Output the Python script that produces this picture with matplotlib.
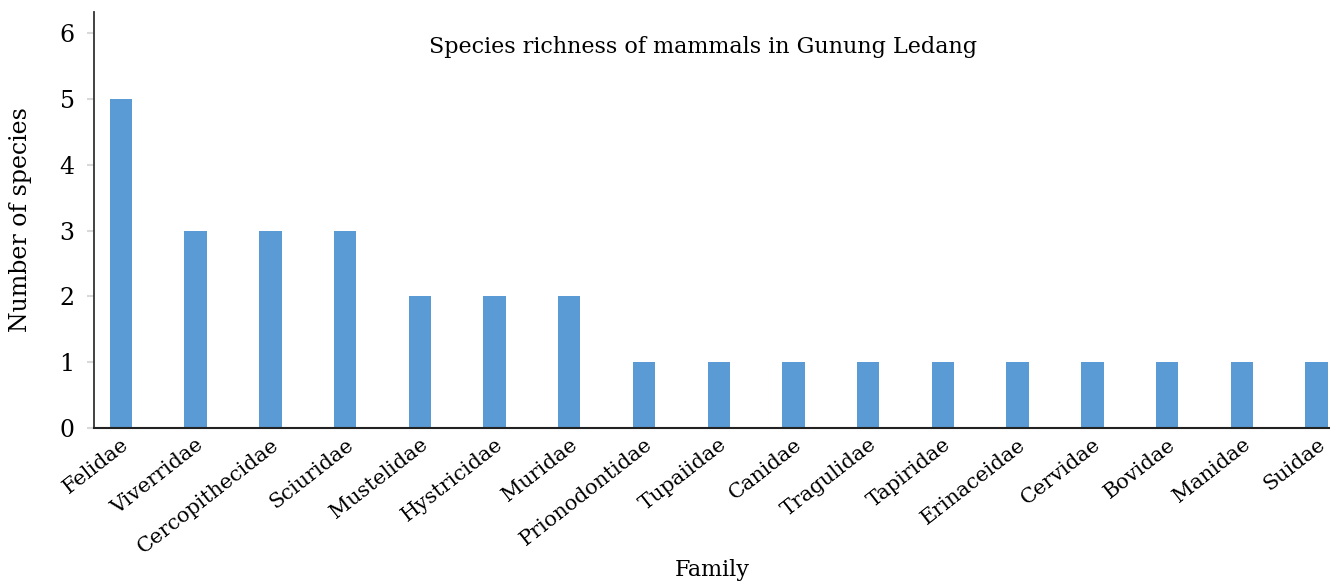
import matplotlib
matplotlib.use("Agg")
import matplotlib.pyplot as plt

families = ["Felidae", "Viverridae", "Cercopithecidae", "Sciuridae", "Mustelidae",
            "Hystricidae", "Muridae", "Prionodontidae", "Tupaiidae", "Canidae",
            "Tragulidae", "Tapiridae", "Erinaceidae", "Cervidae", "Bovidae",
            "Manidae", "Suidae"]
species = [5, 3, 3, 3, 2, 2, 2, 1, 1, 1, 1, 1, 1, 1, 1, 1, 1]
yticks = [0, 1, 2, 3, 4, 5, 6]

plt.rcParams['font.family'] = ['DejaVu Serif']

fig = plt.figure(figsize=(13.3, 5.84), dpi=100)
ax = fig.add_axes([94/1330, 1-428/584, 1-94/1330, (428-12)/584])

x = list(range(len(families)))
ax.bar(x, species, width=0.3, color='#5B9BD5', zorder=2)

ax.set_xlim(-0.36, 16.18)
ax.set_ylim(0, 6 + 21/65.83)
ax.set_yticks(yticks)
ax.set_yticklabels([str(v) for v in yticks], fontsize=17)
ax.set_xticks(x)
ax.set_xticklabels(families, rotation=38, ha='right', rotation_mode='anchor', fontsize=15)
ax.tick_params(axis='x', length=0, pad=5)
ax.tick_params(axis='y', length=5, color='#d9d9d9', width=1.5, pad=9)

for s in ['top', 'right']:
    ax.spines[s].set_visible(False)
ax.spines['left'].set_color('#333333')
ax.spines['bottom'].set_color('#222222')
ax.spines['left'].set_linewidth(1.3)
ax.spines['bottom'].set_linewidth(1.5)

ax.text(0.493, 0.915, "Species richness of mammals in Gunung Ledang",
        transform=ax.transAxes, ha='center', va='center', fontsize=16)
ax.set_ylabel("Number of species", fontsize=17, labelpad=20)
fig.text(712/1330, 1-570/584, "Family", ha='center', va='center', fontsize=16)

fig.savefig("out.png", dpi=100)
